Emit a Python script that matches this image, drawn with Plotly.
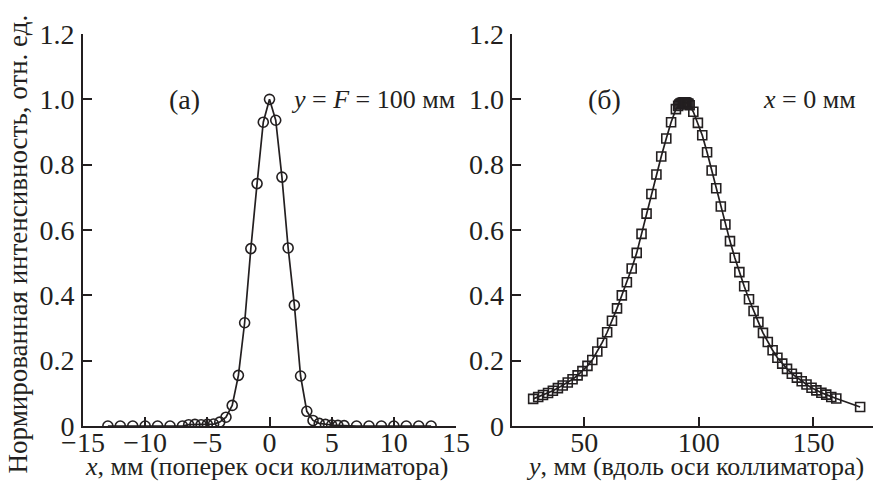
import plotly.graph_objects as go

# ---- data ----
x_a = [-13, -12, -11, -10, -9, -8, -7, -6.5, -6, -5.5, -5, -4.5, -4, -3.5, -3, -2.5, -2, -1.5, -1, -0.5,
       0, 0.5, 1, 1.5, 2, 2.5, 3, 3.5, 4, 4.5, 5, 5.5, 6, 7, 8, 9, 10, 11, 12, 13]
v_a = [0, 0, 0, 0, 0, 0, 0, 0.004, 0.005, 0.004, 0.005, 0.006, 0.012, 0.027, 0.063, 0.155, 0.316, 0.543, 0.742, 0.930,
       1.0, 0.936, 0.762, 0.545, 0.370, 0.153, 0.045, 0.017, 0.008, 0.005, 0.003, 0.002, 0.001, 0, 0, 0, 0, 0, 0, 0]

y_b = [27.7, 29.9, 32.0, 34.2, 36.3, 38.5, 40.6, 42.8, 44.9, 47.1,
       49.2, 51.4, 53.5, 55.7, 57.8, 60.0, 62.1, 64.3, 66.4, 68.6,
       70.7, 72.9, 75.0, 77.2, 79.3, 81.5, 83.6, 85.8, 87.9, 90.0,
       91.0, 91.5, 92.0, 92.5, 93.0, 93.5, 94.0, 94.5, 95.0, 95.5, 96.0,
       97.6, 99.6, 101.5, 103.6, 105.6, 107.6, 109.6, 111.6, 113.6, 115.7,
       117.7, 119.8, 121.9, 123.9, 126.0, 128.0, 130.1, 132.2, 134.3, 136.4,
       138.5, 140.6, 142.8, 144.9, 147.0, 149.2, 151.3, 153.5, 155.6, 157.8,
       160.0, 170.4]
v_b = [0.083, 0.089, 0.095, 0.101, 0.108, 0.116, 0.124, 0.133, 0.143, 0.155,
       0.168, 0.184, 0.202, 0.228, 0.255, 0.287, 0.322, 0.360, 0.400, 0.440,
       0.482, 0.530, 0.588, 0.650, 0.710, 0.770, 0.825, 0.880, 0.930, 0.970,
       0.980, 0.984, 0.987, 0.989, 0.990, 0.991, 0.991, 0.990, 0.988, 0.986, 0.982,
       0.962, 0.928, 0.890, 0.838, 0.782, 0.728, 0.672, 0.617, 0.566, 0.515,
       0.471, 0.428, 0.388, 0.352, 0.318, 0.285, 0.257, 0.232, 0.209, 0.191,
       0.175, 0.160, 0.148, 0.137, 0.127, 0.117, 0.109, 0.102, 0.096, 0.089,
       0.084, 0.058]

y_tickvals = [0, 0.2, 0.4, 0.6, 0.8, 1.0, 1.2]
y_ticktext = ["0", "0.2", "0.4", "0.6", "0.8", "1.0", "1.2"]
xa_tickvals = [-15, -10, -5, 0, 5, 10, 15]
xa_ticktext = ["\u221215", "\u221210", "\u22125", "0", "5", "10", "15"]
xb_tickvals = [50, 100, 150]
xb_ticktext = ["50", "100", "150"]

title_x_a = "<i>x</i>, мм (поперек оси коллиматора)"
title_x_b = "<i>y</i>, мм (вдоль оси коллиматора)"
title_y = "Нормированная интенсивность, отн. ед."
label_a = "(а)"
cond_a = "<i>y</i> = <i>F</i> = 100 мм"
label_b = "(б)"
cond_b = "<i>x</i> = 0 мм"

INK = "#231f20"
FONT = "Liberation Serif"
W, H = 881, 487
OFF = 8  # page body margin of the browser
ML, MR, MT, MB = 75, 11, 25.5, 69.3
PW = W - ML - MR
PH = H - MT - MB


def px(xr):
    return (xr - OFF - ML) / PW


def py(yr):
    return (H - MB - (yr - OFF)) / PH


fig = go.Figure()
fig.add_trace(go.Scatter(
    x=x_a, y=v_a, mode="lines+markers", xaxis="x", yaxis="y",
    line=dict(color=INK, width=1.7),
    marker=dict(symbol="circle-open", size=10, color=INK, line=dict(width=1.6)),
    showlegend=False))
fig.add_trace(go.Scatter(
    x=y_b, y=v_b, mode="lines+markers", xaxis="x2", yaxis="y2",
    line=dict(color=INK, width=1.7),
    marker=dict(symbol="square-open", size=9, color=INK, line=dict(width=1.6)),
    showlegend=False))

axis_common = dict(showline=True, linecolor=INK, linewidth=1.6, ticks="inside", ticklen=9,
                   tickwidth=1.5, tickcolor=INK, showgrid=False, zeroline=False,
                   tickfont=dict(family=FONT, size=28, color=INK))

fig.update_layout(
    width=W, height=H,
    margin=dict(l=ML, r=MR, t=MT, b=MB, autoexpand=False),
    paper_bgcolor="white", plot_bgcolor="white",
    font=dict(family=FONT, color=INK, size=26),
    xaxis=dict(domain=[0, px(456)], range=[-15, 15], tickvals=xa_tickvals, ticktext=xa_ticktext,
               anchor="y", ticklabelstandoff=-9, automargin=False, **axis_common),
    yaxis=dict(domain=[0, 1], range=[0, 1.2], tickvals=y_tickvals, ticktext=y_ticktext,
               anchor="x", ticklabelstandoff=1, automargin=False, **axis_common),
    xaxis2=dict(domain=[px(512.3), 1], range=[18.6, 178.2], tickvals=xb_tickvals, ticktext=xb_ticktext,
                anchor="y2", ticklabelstandoff=-9, automargin=False, **axis_common),
    yaxis2=dict(domain=[0, 1], range=[0, 1.2], tickvals=y_tickvals, ticktext=y_ticktext,
                anchor="x2", ticklabelstandoff=1, automargin=False, **axis_common),
)

ann = [
    dict(text=title_x_a, x=px(266), y=py(466), xanchor="center", yanchor="middle", font=dict(size=26)),
    dict(text=title_x_b, x=px(695), y=py(466), xanchor="center", yanchor="middle", font=dict(size=26)),
    dict(text=title_y, x=px(18), y=py(244), xanchor="center", yanchor="middle", textangle=-90,
         font=dict(size=27)),
    dict(text=label_a, x=px(184), y=py(99), xanchor="center", yanchor="middle", font=dict(size=28)),
    dict(text=cond_a, x=px(457), y=py(99), xanchor="right", yanchor="middle", font=dict(size=26)),
    dict(text=label_b, x=px(604), y=py(99), xanchor="center", yanchor="middle", font=dict(size=28)),
    dict(text=cond_b, x=px(858), y=py(99), xanchor="right", yanchor="middle", font=dict(size=26)),
]
for a in ann:
    a.update(xref="paper", yref="paper", showarrow=False)
fig.update_layout(annotations=ann)

fig.write_html("out.html")
